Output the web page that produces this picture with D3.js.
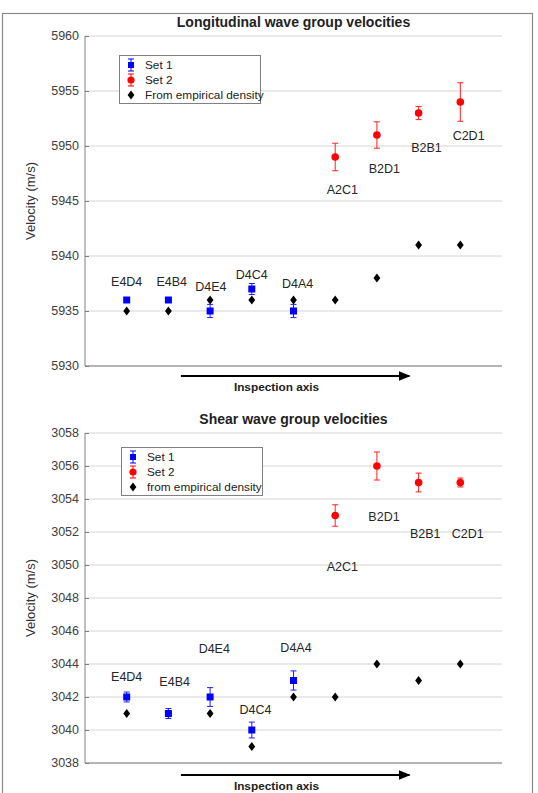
<!DOCTYPE html>
<html>
<head>
<meta charset="utf-8">
<script src="https://cdn.jsdelivr.net/npm/d3@7"></script>
<style>
  body { margin: 0; background: #fff; }
  svg text { font-family: "Liberation Sans", Arial, sans-serif; }
</style>
</head>
<body>
<script>
// measurement pairs, in inspection order
const sites = ["E4D4", "E4B4", "D4E4", "D4C4", "D4A4", "A2C1", "B2D1", "B2B1", "C2D1"];
const sitePos = [1, 2, 3, 4, 5, 6, 7, 8, 9];

// longitudinal velocities (m/s)
const longSet1 = [5936, 5936, 5935, 5937, 5935];
const longSet1Err = [0.2, 0.15, 0.6, 0.5, 0.6];
const longSet2 = [5949, 5951, 5953, 5954];
const longSet2Err = [1.25, 1.2, 0.6, 1.75];
const longEmpirical = [5935, 5935, 5936, 5936, 5936, 5936, 5938, 5941, 5941];
const longLabelX = [1, 2.08, 3.02, 4, 5.1, 6.17, 7.18, 8.19, 9.2];
const longLabelY = [5937.6, 5937.6, 5937.2, 5938.3, 5937.5, 5946, 5947.9, 5949.8, 5950.9];
const longTicks = [5930, 5935, 5940, 5945, 5950, 5955, 5960];

// shear velocities (m/s)
const shearSet1 = [3042, 3041, 3042, 3040, 3043];
const shearSet1Err = [0.3, 0.3, 0.57, 0.48, 0.58];
const shearSet2 = [3053, 3056, 3055, 3055];
const shearSet2Err = [0.65, 0.85, 0.57, 0.27];
const shearEmpirical = [3041, 3041, 3041, 3039, 3042, 3042, 3044, 3043, 3044];
const shearLabelX = [1, 2.15, 3.1, 4.09, 5.06, 6.17, 7.17, 8.16, 9.18];
const shearLabelY = [3043.2, 3042.9, 3044.9, 3041.2, 3045, 3049.9, 3052.9, 3051.9, 3051.9];
const shearTicks = [3038, 3040, 3042, 3044, 3046, 3048, 3050, 3052, 3054, 3056, 3058];

const W = 538, H = 793;
const svg = d3.select("body").append("svg")
    .attr("width", W).attr("height", H);

// figure frame
svg.append("rect")
    .attr("x", 2.5).attr("y", 13.5)
    .attr("width", 530).attr("height", 800)
    .attr("fill", "none").attr("stroke", "#8a8a8a").attr("stroke-width", 1.2);

svg.append("defs").append("marker")
    .attr("id", "head")
    .attr("viewBox", "0 0 10 10")
    .attr("refX", 9).attr("refY", 5)
    .attr("markerWidth", 6).attr("markerHeight", 6)
    .attr("markerUnits", "strokeWidth")
    .attr("orient", "auto")
  .append("path").attr("d", "M0,1 L10,5 L0,9 Z").attr("fill", "#000");

const left = 85, right = 502;
const x = d3.scaleLinear().domain([0, 10]).range([left, right]);

function diamond(sel) {
    sel.append("path")
        .attr("d", "M0,-4.5 L3.4,0 L0,4.5 L-3.4,0 Z")
        .attr("fill", "#000");
}

function errbars(g, xs, ys, errs, y, color) {
    const cap = 3;
    xs.forEach((xv, i) => {
        const px = x(xv), y1 = y(ys[i] + errs[i]), y2 = y(ys[i] - errs[i]);
        g.append("line").attr("x1", px).attr("x2", px).attr("y1", y1).attr("y2", y2)
            .attr("stroke", color).attr("stroke-width", 1);
        [y1, y2].forEach(yy => g.append("line")
            .attr("x1", px - cap).attr("x2", px + cap).attr("y1", yy).attr("y2", yy)
            .attr("stroke", color).attr("stroke-width", 1));
    });
}

function drawPanel(opt) {
    const y = d3.scaleLinear().domain(opt.domain).range([opt.bottom, opt.top]);
    const g = svg.append("g");

    // grid
    g.selectAll(".grid").data(opt.ticks).enter().append("line")
        .attr("x1", left).attr("x2", right)
        .attr("y1", d => y(d)).attr("y2", d => y(d))
        .attr("stroke", "#d4d4d4").attr("stroke-width", 1);

    // y axis
    const ax = g.append("g").attr("transform", `translate(${left},0)`)
        .call(d3.axisRight(y).tickValues(opt.ticks).tickSize(4).tickFormat(""));
    ax.select(".domain").remove();
    ax.selectAll("line").attr("stroke", "#808080");
    g.selectAll(".tl").data(opt.ticks).enter().append("text")
        .attr("x", left - 6).attr("y", d => y(d))
        .attr("text-anchor", "end").attr("dominant-baseline", "central")
        .attr("font-size", 12.5).attr("fill", "#404040")
        .text(d => d);
    g.append("line").attr("x1", left).attr("x2", left)
        .attr("y1", opt.top).attr("y2", opt.bottom)
        .attr("stroke", "#808080").attr("stroke-width", 1);
    g.append("line").attr("x1", left).attr("x2", right)
        .attr("y1", opt.bottom).attr("y2", opt.bottom)
        .attr("stroke", "#808080").attr("stroke-width", 1);

    g.append("text")
        .attr("transform", `translate(35,${(opt.top + opt.bottom) / 2}) rotate(-90)`)
        .attr("text-anchor", "middle").attr("font-size", 13).attr("fill", "#333")
        .text("Velocity (m/s)");

    g.append("text")
        .attr("x", (left + right) / 2).attr("y", opt.top - 9)
        .attr("text-anchor", "middle").attr("font-size", 14).attr("font-weight", "bold")
        .attr("fill", "#222")
        .text(opt.title);

    // site labels
    g.selectAll(".lab").data(sites).enter().append("text")
        .attr("x", (d, i) => x(opt.labelX[i])).attr("y", (d, i) => y(opt.labelY[i]))
        .attr("text-anchor", "middle").attr("dominant-baseline", "central")
        .attr("font-size", 12.5).attr("fill", "#262626")
        .text(d => d);

    // empirical density points
    opt.emp.forEach((v, i) => {
        g.append("g").attr("transform", `translate(${x(sitePos[i])},${y(v)})`).call(diamond);
    });

    // set 1
    const p1 = sitePos.slice(0, opt.set1.length);
    errbars(g, p1, opt.set1, opt.set1Err, y, "#1f1fff");
    p1.forEach((xv, i) => g.append("rect")
        .attr("x", x(xv) - 3.5).attr("y", y(opt.set1[i]) - 3.5)
        .attr("width", 7).attr("height", 7).attr("fill", "#0000ff"));

    // set 2
    const p2 = sitePos.slice(sitePos.length - opt.set2.length);
    errbars(g, p2, opt.set2, opt.set2Err, y, "#ff2020");
    p2.forEach((xv, i) => g.append("circle")
        .attr("cx", x(xv)).attr("cy", y(opt.set2[i])).attr("r", 3.8)
        .attr("fill", "#ff0000"));

    // legend
    const lg = g.append("g").attr("transform", `translate(${opt.legend[0]},${opt.legend[1]})`);
    lg.append("rect").attr("x", 0.5).attr("y", 0.5).attr("width", 141).attr("height", 48)
        .attr("fill", "#fff").attr("stroke", "#808080").attr("stroke-width", 1);
    const items = [
        { t: "Set 1", c: "#0000ff", k: "sq" },
        { t: "Set 2", c: "#ff0000", k: "ci" },
        { t: opt.empLabel, c: "#000", k: "di" }
    ];
    items.forEach((it, i) => {
        const cy = 10 + i * 15, cx = 12;
        if (it.k !== "di") {
            lg.append("line").attr("x1", cx).attr("x2", cx).attr("y1", cy - 6).attr("y2", cy + 6)
                .attr("stroke", it.c);
            [cy - 6, cy + 6].forEach(yy => lg.append("line")
                .attr("x1", cx - 3).attr("x2", cx + 3).attr("y1", yy).attr("y2", yy).attr("stroke", it.c));
        }
        if (it.k === "sq") lg.append("rect").attr("x", cx - 3).attr("y", cy - 3).attr("width", 6).attr("height", 6).attr("fill", it.c);
        if (it.k === "ci") lg.append("circle").attr("cx", cx).attr("cy", cy).attr("r", 3.6).attr("fill", it.c);
        if (it.k === "di") lg.append("g").attr("transform", `translate(${cx},${cy})`).call(diamond);
        lg.append("text").attr("x", 26).attr("y", cy).attr("dominant-baseline", "central")
            .attr("font-size", 11.8).attr("fill", "#222").text(it.t);
    });

    // inspection axis arrow
    const ay = opt.bottom + opt.arrowGap;
    g.append("line")
        .attr("x1", x(2.3)).attr("x2", x(7.78)).attr("y1", ay).attr("y2", ay)
        .attr("stroke", "#000").attr("stroke-width", 2)
        .attr("marker-end", "url(#head)");
    g.append("text")
        .attr("x", (left + right) / 2 - 17).attr("y", ay + 11)
        .attr("text-anchor", "middle").attr("dominant-baseline", "central")
        .attr("font-size", 11.8).attr("font-weight", "bold").attr("fill", "#222")
        .text("Inspection axis");
}

drawPanel({
    title: "Longitudinal wave group velocities",
    domain: [5930, 5960], ticks: longTicks, top: 36, bottom: 366,
    set1: longSet1, set1Err: longSet1Err, set2: longSet2, set2Err: longSet2Err,
    emp: longEmpirical, empLabel: "From empirical density",
    labelX: longLabelX, labelY: longLabelY,
    legend: [119, 55], arrowGap: 10
});

drawPanel({
    title: "Shear wave group velocities",
    domain: [3038, 3058], ticks: shearTicks, top: 433, bottom: 763,
    set1: shearSet1, set1Err: shearSet1Err, set2: shearSet2, set2Err: shearSet2Err,
    emp: shearEmpirical, empLabel: "from empirical density",
    labelX: shearLabelX, labelY: shearLabelY,
    legend: [121, 447], arrowGap: 12
});
</script>
</body>
</html>
